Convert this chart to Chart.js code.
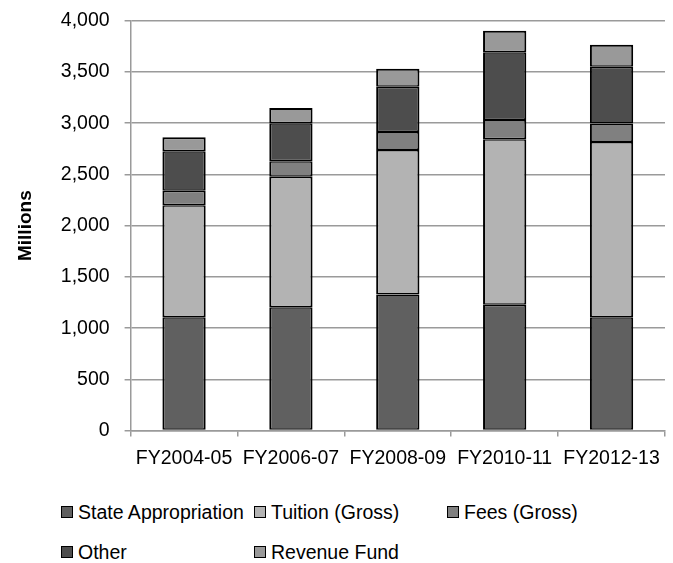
<!DOCTYPE html>
<html>
<head>
<meta charset="utf-8">
<script src="https://cdn.jsdelivr.net/npm/chart.js@4"></script>
<style>
  html, body { margin: 0; padding: 0; background: #fff; }
  #wrap { position: relative; width: 673px; height: 563px; overflow: hidden; font-family: 'Liberation Sans', Arial, sans-serif; }
  #chartBox { position: absolute; left: 0; top: -6px; width: 673px; height: 496px; }
  #legend { position: absolute; left: 61px; top: 492px; width: 600px; display: flex; flex-wrap: wrap; }
  .item { width: 193px; height: 40px; display: flex; align-items: center; font-size: 19.5px; color: #000; white-space: nowrap; }
  .box { width: 10px; height: 10px; border: 1.5px solid #000; margin-right: 5px; flex: none; }
</style>
</head>
<body>
<div id="wrap">
  <div id="chartBox"><canvas id="c"></canvas></div>
  <div id="legend"></div>
</div>
<script>
// ---- data ----
const categories = ['FY2004-05', 'FY2006-07', 'FY2008-09', 'FY2010-11', 'FY2012-13'];
const stateAppropriation = [1106, 1203, 1327, 1229, 1106];
const tuitionGross       = [1092, 1275, 1411, 1613, 1711];
const feesGross          = [143, 150, 176, 189, 181];
const other              = [384, 372, 442, 660, 553];
const revenueFund        = [137, 148, 176, 211, 215];

const seriesNames  = ['State Appropriation', 'Tuition (Gross)', 'Fees (Gross)', 'Other', 'Revenue Fund'];
const seriesColors = ['#606060', '#b3b3b3', '#808080', '#4d4d4d', '#999999'];
const seriesData   = [stateAppropriation, tuitionGross, feesGross, other, revenueFund];

const gridColor = '#9a9a9a';

Chart.defaults.font.family = "'Liberation Sans', Arial, sans-serif";
Chart.defaults.color = '#000';

const lastIdx = seriesNames.length - 1;

new Chart(document.getElementById('c'), {
  type: 'bar',
  data: {
    labels: categories,
    datasets: seriesNames.map((name, i) => ({
      label: name,
      data: seriesData[i],
      backgroundColor: seriesColors[i],
      borderColor: '#000',
      // segment edges meet as one dark line
      borderWidth: { top: i === lastIdx ? 2 : 1.5, bottom: 1.5, left: 2, right: 2 },
      borderSkipped: false,
      barPercentage: 0.405,
      categoryPercentage: 1
    }))
  },
  options: {
    responsive: true,
    maintainAspectRatio: false,
    animation: false,
    layout: { padding: { top: 3, right: 8, bottom: 10, left: 0 } },
    plugins: {
      legend: { display: false },
      tooltip: { enabled: false }
    },
    scales: {
      x: {
        stacked: true,
        offset: true,
        grid: { offset: true, drawOnChartArea: false, drawTicks: true, tickLength: 6, color: gridColor, lineWidth: 1.5 },
        border: { color: gridColor, width: 1.5 },
        ticks: { font: { size: 19.5 }, padding: 10, maxRotation: 0, autoSkip: false }
      },
      y: {
        stacked: true,
        min: 0,
        max: 4000,
        grid: { color: gridColor, lineWidth: 1.5, tickLength: 6 },
        border: { color: gridColor, width: 1.5 },
        ticks: {
          stepSize: 500,
          font: { size: 19.5 },
          padding: 15,
          callback: v => v.toLocaleString('en-US')
        },
        title: {
          display: true,
          text: 'Millions',
          font: { size: 19, weight: 'bold' },
          padding: { top: 14, bottom: 9 }
        }
      }
    }
  }
});

// ---- legend (HTML, from the same series arrays) ----
const legendEl = document.getElementById('legend');
seriesNames.forEach((name, i) => {
  const item = document.createElement('div');
  item.className = 'item';
  const box = document.createElement('span');
  box.className = 'box';
  box.style.background = seriesColors[i];
  item.appendChild(box);
  item.appendChild(document.createTextNode(name));
  legendEl.appendChild(item);
});
</script>
</body>
</html>
